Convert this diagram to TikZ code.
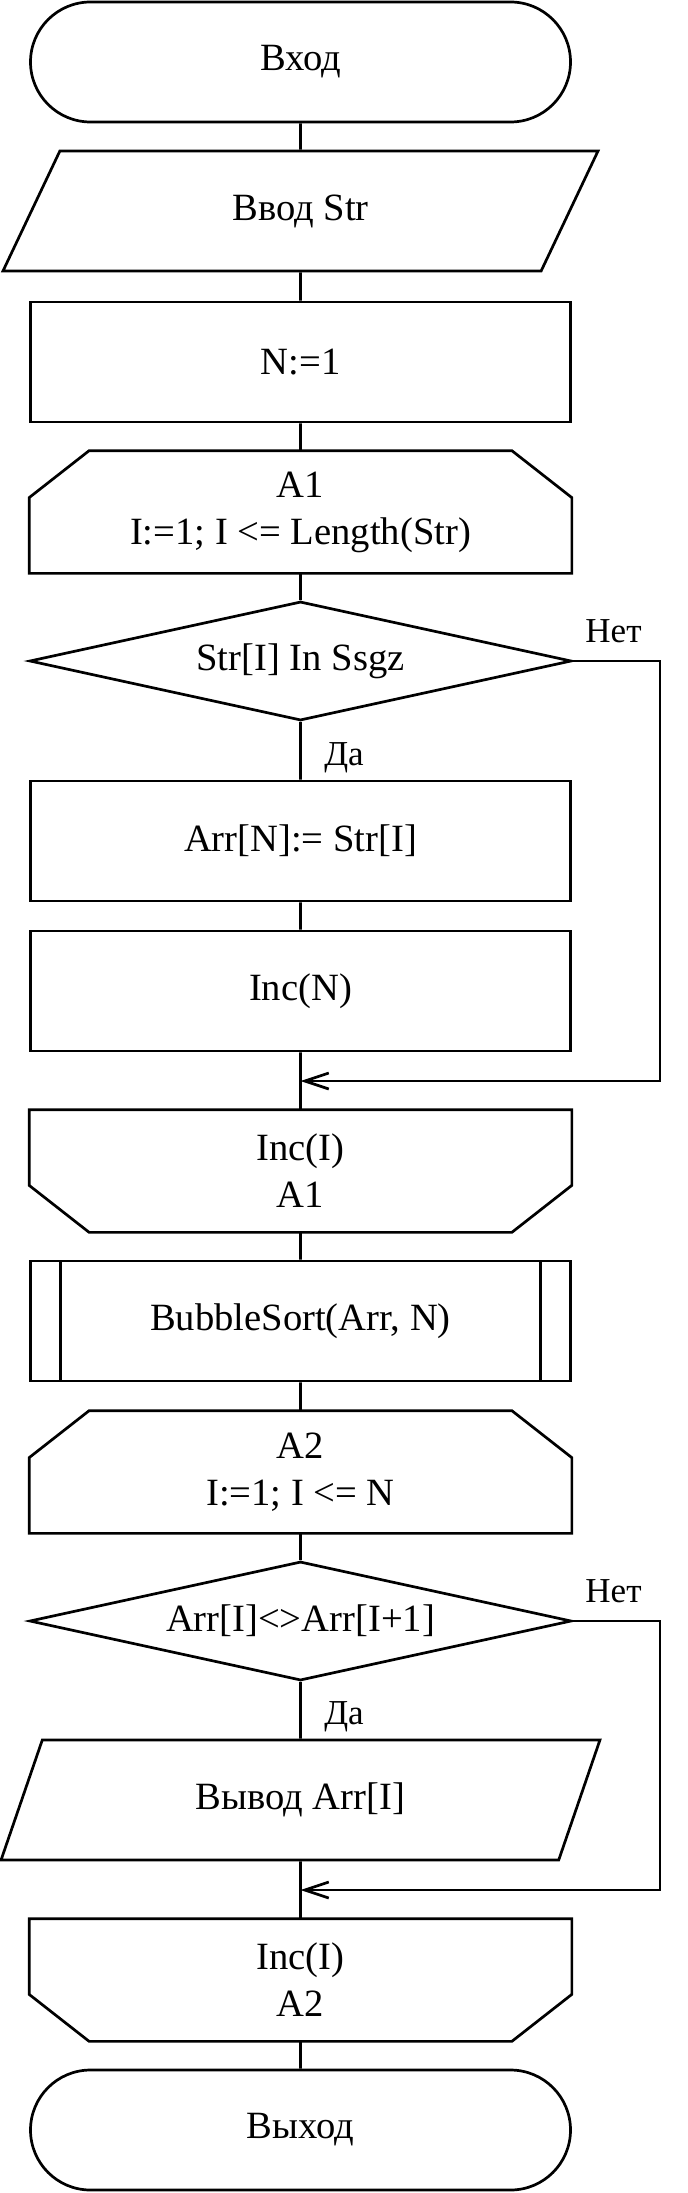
\documentclass[tikz,border=0pt]{standalone}
\usepackage{fontspec}
\setmainfont{Liberation Serif}
\usetikzlibrary{shapes.geometric,arrows.meta}
\newcommand\bigtxt{\fontsize{19.3}{23.5}\selectfont}
\newcommand\smalltxt{\fontsize{17.5}{21}\selectfont}
\newcommand\loopbeg[1]{\draw ([xshift=30pt]#1.north west)--([xshift=-30pt]#1.north east)--([yshift=-23.5pt]#1.north east)--(#1.south east)--(#1.south west)--([yshift=-23.5pt]#1.north west)--cycle;}
\newcommand\loopend[1]{\draw (#1.north west)--(#1.north east)--([yshift=23.5pt]#1.south east)--([xshift=-30pt]#1.south east)--([xshift=30pt]#1.south west)--([yshift=23.5pt]#1.south west)--cycle;}
\begin{document}
\begin{tikzpicture}[x=0.5pt,y=-0.5pt,line width=1.35pt,font=\bigtxt,
	blk/.style={rectangle,minimum width=270pt,minimum height=60pt,inner sep=0pt,align=center},
	proc/.style={blk,draw},
	term/.style={proc,rounded corners=30pt},
	io/.style={trapezium,draw,trapezium left angle=64,trapezium right angle=116,trapezium stretches=true,minimum width=299.5pt,minimum height=60pt,inner sep=0pt},
	cond/.style={diamond,draw,aspect=4.55,minimum width=271pt,minimum height=59.5pt,inner sep=0pt},
	sub/.style={proc,path picture={\draw ([xshift=15pt]path picture bounding box.north west)--([xshift=15pt]path picture bounding box.south west) ([xshift=-15pt]path picture bounding box.north east)--([xshift=-15pt]path picture bounding box.south east);}},
	lbl/.style={font=\smalltxt,inner sep=0pt},
	arr/.style={-{Straight Barb[length=12pt,width=8pt]}}]
	\useasboundingbox (0,0) rectangle (687,2193);
	\node[term] (start) at (300.5,62) {Вход};
	\node[io] (inp) at (300.5,211) {Ввод Str};
	\node[proc] (setn) at (300.5,362) {N:=1};
	\node[blk] (a1b) at (300.5,512) {A1\\I:=1; I <= Length(Str)};
	\node[cond] (c1) at (300.5,661) {Str[I] In Ssgz};
	\node[proc] (put) at (300.5,841) {Arr[N]:= Str[I]};
	\node[proc] (incn) at (300.5,991) {Inc(N)};
	\node[blk] (a1e) at (300.5,1171) {Inc(I)\\A1};
	\node[sub] (sort) at (300.5,1321) {BubbleSort(Arr, N)};
	\node[blk] (a2b) at (300.5,1472) {A2\\I:=1; I <= N};
	\node[cond] (c2) at (300.5,1621) {Arr[I]<>Arr[I+1]};
	\node[io] (outp) at (300.5,1800) {Вывод Arr[I]};
	\node[blk] (a2e) at (300.5,1980) {Inc(I)\\A2};
	\node[term] (stop) at (300.5,2130) {Выход};
	\loopbeg{a1b} \loopend{a1e} \loopbeg{a2b} \loopend{a2e}
	\coordinate (j1) at (300.5,1081);
	\coordinate (j2) at (300.5,1890);
	\coordinate (r1) at (660,661);
	\coordinate (r2) at (660,1621);
	\draw (start)--(inp) (inp)--(setn) (setn)--(a1b) (a1b)--(c1) (c1)--(put) (put)--(incn) (incn)--(a1e) (a1e)--(sort) (sort)--(a2b) (a2b)--(c2) (c2)--(outp) (outp)--(a2e) (a2e)--(stop);
	\draw[arr] (c1.east)--(r1)|-(j1);
	\draw[arr] (c2.east)--(r2)|-(j2);
	\node[lbl,anchor=south] (no1) at (613.5,644) {Нет};
	\node[lbl,anchor=south] (no2) at (613.5,1604) {Нет};
	\node[lbl,anchor=base west] (yes1) at (323,765) {Да};
	\node[lbl,anchor=base west] (yes2) at (323,1724) {Да};
\end{tikzpicture}
\end{document}
